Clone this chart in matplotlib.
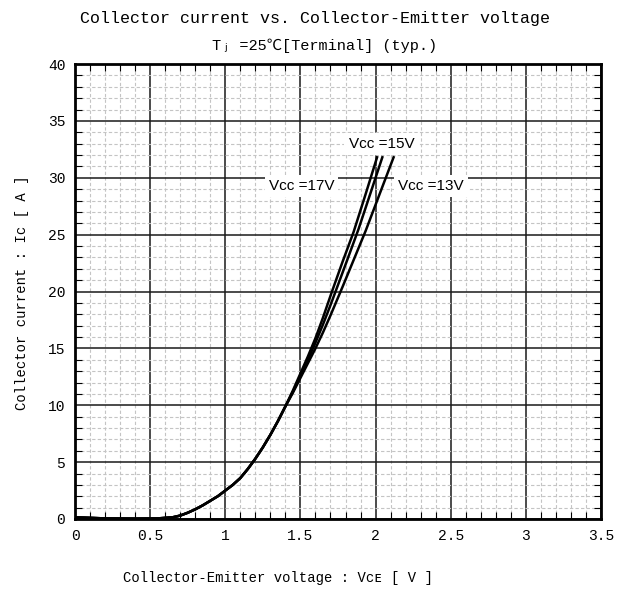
import numpy as np
import matplotlib.pyplot as plt
from matplotlib.ticker import MultipleLocator

# shared low-current part of the curves (all Vcc overlap here)
v_common = [0.0, 0.2, 0.4, 0.55, 0.65, 0.7, 0.75, 0.8, 0.85, 0.9, 0.95, 1.0,
            1.05, 1.1, 1.15, 1.2, 1.25, 1.3, 1.35, 1.4]
i_common = [0.15, 0.05, 0.03, 0.05, 0.15, 0.3, 0.55, 0.85, 1.2, 1.6, 2.0, 2.5,
            3.0, 3.6, 4.4, 5.3, 6.3, 7.4, 8.6, 9.9]

# upper part, one per gate supply voltage
v_17 = [1.45, 1.5, 1.55, 1.6, 1.65, 1.71, 1.78, 1.853, 1.93, 2.01]
i_17 = [11.3, 12.8, 14.3, 15.9, 17.7, 20.0, 22.6, 25.2, 28.4, 31.8]
v_15 = [1.45, 1.5, 1.55, 1.6, 1.65, 1.7, 1.745, 1.815, 1.887, 1.965, 2.045]
i_15 = [11.2, 12.6, 14.0, 15.5, 17.1, 18.8, 20.4, 22.9, 25.5, 28.6, 31.8]
v_13 = [1.45, 1.5, 1.55, 1.6, 1.65, 1.7, 1.78, 1.855, 1.933, 2.025, 2.12]
i_13 = [11.1, 12.4, 13.7, 15.0, 16.4, 17.9, 20.4, 22.8, 25.3, 28.5, 31.8]

labels = ['Vᴄᴄ =17V', 'Vᴄᴄ =15V', 'Vᴄᴄ =13V']
label_pos = [(1.29, 29.3), (1.82, 33.0), (2.15, 29.3)]

mono = ['Liberation Mono', 'DejaVu Sans Mono', 'Noto Sans CJK JP']
sans = ['Liberation Sans', 'DejaVu Sans']

fig = plt.figure(figsize=(6.3, 5.92), dpi=100)
ax = fig.add_axes([75/630, 1 - 519/592, 526/630, 455/592])

for vs, cs in [(v_17, i_17), (v_15, i_15), (v_13, i_13)]:
    ax.plot(v_common + vs, i_common + cs, color='black', linewidth=1.8,
            solid_joinstyle='round', zorder=3)

for txt, (x, y) in zip(labels, label_pos):
    ax.text(x, y, txt, fontsize=11, family=sans, va='center', ha='left', zorder=4,
            bbox=dict(facecolor='white', edgecolor='none', pad=3))

ax.set_xlim(0, 3.5)
ax.set_ylim(0, 40)
ax.xaxis.set_major_locator(MultipleLocator(0.5))
ax.xaxis.set_minor_locator(MultipleLocator(0.1))
ax.yaxis.set_major_locator(MultipleLocator(5))
ax.yaxis.set_minor_locator(MultipleLocator(1))
ax.set_xticks(np.arange(0, 3.51, 0.5))
ax.set_xticklabels(['0', '0.5', '1', '1.5', '2', '2.5', '3', '3.5'])

ax.grid(which='minor', color='#c4c4c4', linestyle=(0, (3, 2)), linewidth=0.8, zorder=1)
ax.grid(which='major', color='#1a1a1a', linestyle='-', linewidth=1.1, zorder=2)
ax.set_axisbelow(True)

ax.tick_params(which='both', direction='in', top=True, right=True)
ax.tick_params(which='major', length=0, pad=7)
ax.tick_params(which='minor', length=5, width=0.8)
for lab in ax.get_xticklabels() + ax.get_yticklabels():
    lab.set_family(mono)
    lab.set_fontsize(10.5)
for s in ax.spines.values():
    s.set_linewidth(2)
    s.set_zorder(5)

fig.text(0.5, 1 - 19/592, 'Collector current vs. Collector-Emitter voltage',
         family=mono, fontsize=12, ha='center', va='center')
fig.text(325/630, 1 - 46/592, 'Tⱼ =25℃[Terminal] (typ.)',
         family=mono, fontsize=11, ha='center', va='center')
fig.text(278/630, 1 - 578/592, 'Collector-Emitter voltage : Vᴄᴇ [ V ]',
         family=mono + sans, fontsize=10, ha='center', va='center')
fig.text(22/630, 1 - 293/592, 'Collector current : Ic [ A ]',
         family=mono, fontsize=10, ha='center', va='center', rotation=90)

fig.savefig('out.png', dpi=100)
